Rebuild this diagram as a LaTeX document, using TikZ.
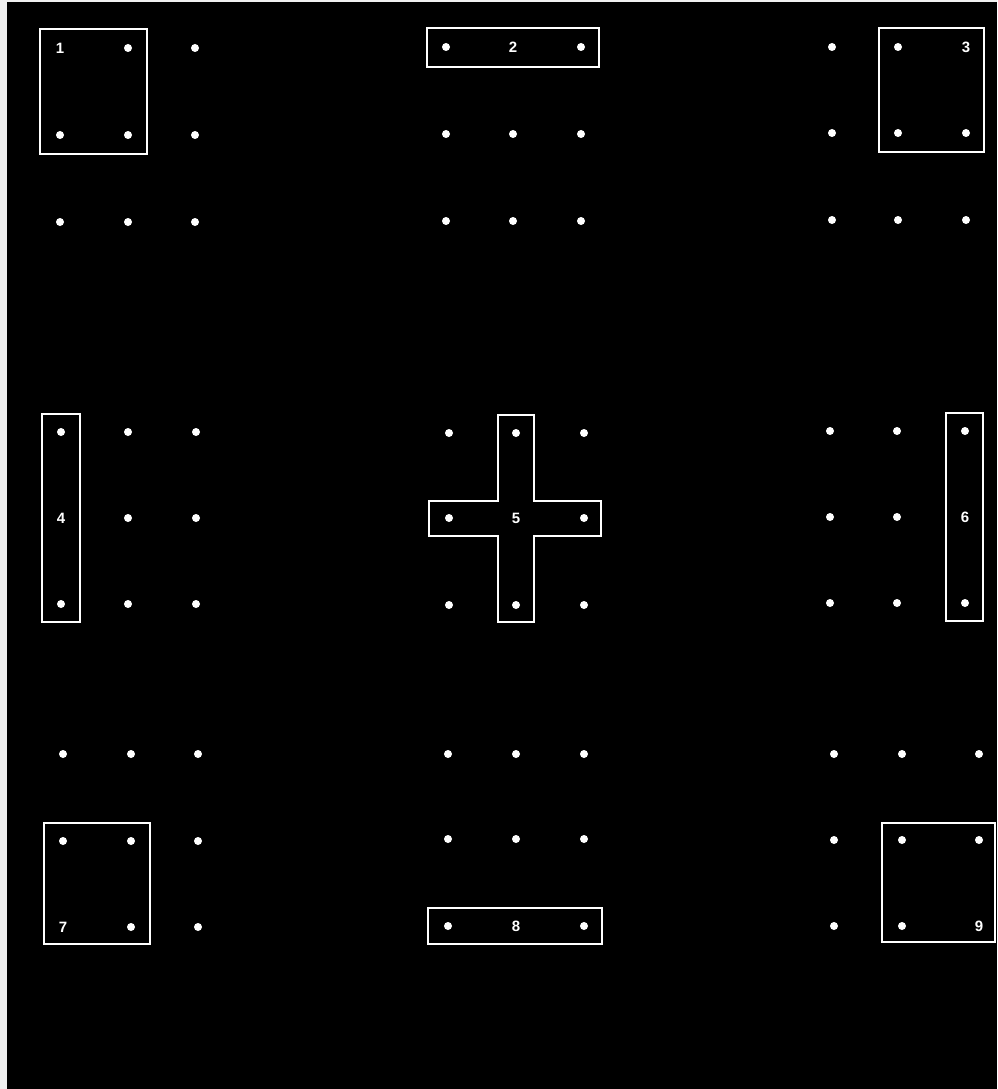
\documentclass[tikz,border=0pt]{standalone}
\usepackage{fontspec}
\setmainfont{Liberation Sans}
\begin{document}
\begin{tikzpicture}[x=1pt,y=-1pt,
  dot/.style={circle,fill=white,inner sep=0pt,minimum size=8pt},
  frame/.style={draw=white,line width=2.6pt,line join=miter},
  lbl/.style={text=white,font=\bfseries\fontsize{15}{15}\selectfont,inner sep=0pt}]
\fill[black] (0,0) rectangle (997,1089);
\useasboundingbox (0,0) rectangle (997,1089);
\fill[gray!12] (0,0) rectangle (7,1089);
\fill[gray!12] (0,0) rectangle (997,2);
\foreach \g/\xa/\xb/\xc/\ya/\yb/\yc/\li/\lj in {
 1/60/128/195/48/135/222/1/1,
 2/446/513/581/47/134/221/2/1,
 3/832/898/966/47/133/220/3/1,
 4/61/128/196/432/518/604/1/2,
 5/449/516/584/433/518/605/2/2,
 6/830/897/965/431/517/603/3/2,
 7/63/131/198/754/841/927/1/3,
 8/448/516/584/754/839/926/2/3,
 9/834/902/979/754/840/926/3/3}
{
 \foreach \i/\x in {1/\xa,2/\xb,3/\xc}
  \foreach \j/\y in {1/\ya,2/\yb,3/\yc}
  {
   \pgfmathtruncatemacro\isl{and(\i==\li,\j==\lj)}
   \ifnum\isl=1
     \node[lbl] (l\g) at (\x,\y) {\g};
   \else
     \node[dot] (d\g-\i-\j) at (\x,\y) {};
   \fi
  }
}
\draw[frame] (40,29) rectangle (147,154);
\draw[frame] (427,28) rectangle (599,67);
\draw[frame] (879,28) rectangle (984,152);
\draw[frame] (42,414) rectangle (80,622);
\draw[frame] (498,415) -- (534,415) -- (534,501) -- (601,501) -- (601,536) -- (534,536) -- (534,622) -- (498,622) -- (498,536) -- (429,536) -- (429,501) -- (498,501) -- cycle;
\draw[frame] (946,413) rectangle (983,621);
\draw[frame] (44,823) rectangle (150,944);
\draw[frame] (428,908) rectangle (602,944);
\draw[frame] (882,823) rectangle (995,942);
\end{tikzpicture}
\end{document}
